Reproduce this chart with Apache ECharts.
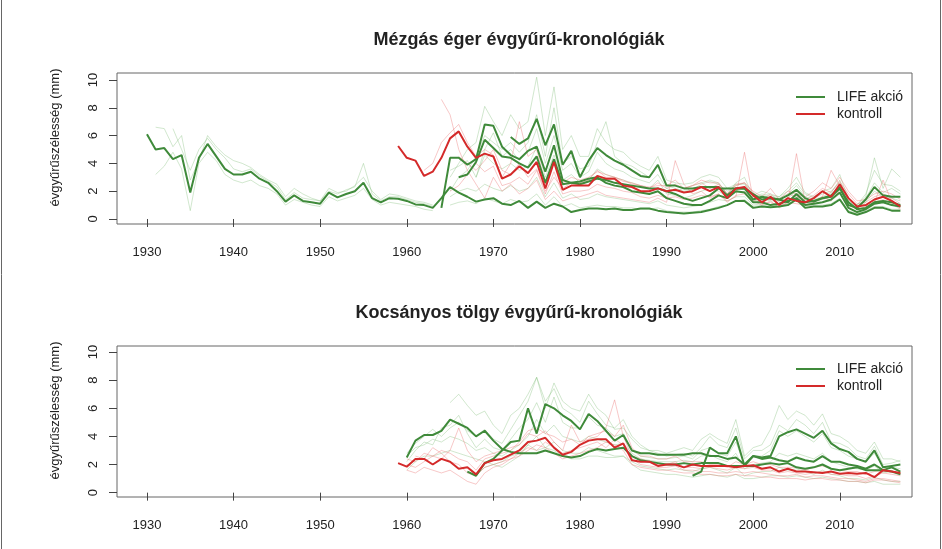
<!DOCTYPE html>
<html>
<head>
<meta charset="utf-8">
<script src="https://cdn.jsdelivr.net/npm/echarts@6/dist/echarts.min.js"></script>
<style>
  html, body { margin: 0; padding: 0; background: #fff; }
  #chart { width: 942px; height: 549px; }
</style>
</head>
<body>
<div id="chart"></div>
<script>
// tick labels
const yearTicks = [1930, 1940, 1950, 1960, 1970, 1980, 1990, 2000, 2010]
const widthTicks = [0, 2, 4, 6, 8, 10]

// ---- Mézgás éger (top panel) ----
// bold chronologies, LIFE akció
const egerLife1Start = 1930
const egerLife1 = [
  6.1, 5.0, 5.1, 4.3, 4.6, 1.9, 4.4, 5.4, 4.5, 3.6,
  3.2, 3.2, 3.4, 2.9, 2.6, 2.0, 1.25, 1.7, 1.3, 1.2,
  1.1, 1.9, 1.55, 1.8, 2.0, 2.6, 1.5, 1.2, 1.5, 1.45,
  1.3, 1.05, 1.0, 0.8, 1.5, 2.3, 1.9, 1.6, 1.25, 1.4,
  1.5, 1.1, 1.0, 1.3, 0.8, 1.25, 0.8, 1.1, 0.9, 0.5,
  0.65, 0.75, 0.75, 0.7, 0.75, 0.65, 0.65, 0.75, 0.75, 0.6,
  0.5, 0.45, 0.4, 0.45, 0.5, 0.65, 0.8, 1.0, 1.3, 1.3,
  0.8, 0.9, 0.85, 0.9, 1.0, 1.4, 0.8, 0.9, 0.9, 1.0,
  1.4, 0.5, 0.3, 0.5, 0.8, 0.8, 0.6, 0.6
]
const egerLife2Start = 1964
const egerLife2 = [
  0.8, 4.4, 4.4, 3.9, 4.3, 6.8, 6.7, 5.2, 4.6, 4.3,
  4.9, 5.2, 3.4, 5.3, 2.8, 2.6, 2.5, 2.7, 2.9, 2.8,
  2.6, 2.5, 2.4, 2.3, 2.2, 2.2, 2.0, 1.8, 1.5, 1.3,
  1.5, 1.7, 2.2, 2.2, 2.2, 2.2, 1.8, 1.4, 1.5, 1.4,
  1.2, 1.8, 1.2, 1.3, 1.5, 1.6, 2.2, 1.2, 0.7, 0.8,
  1.2, 1.3, 1.2, 1.0
]
const egerLife3Start = 1972
const egerLife3 = [
  5.9, 5.4, 5.8, 7.2, 5.3, 6.8, 3.9, 4.9, 3.0, 4.2,
  5.1, 4.6, 4.2, 3.9, 3.5, 3.1, 3.0, 3.9, 2.4, 2.4,
  2.2, 2.2, 2.3, 2.3, 2.3, 1.7, 2.2, 2.2, 1.4, 1.6,
  1.5, 1.4, 1.7, 2.1, 1.5, 1.25, 1.5, 1.7, 2.3, 1.0,
  0.8, 1.4, 2.3, 1.7, 1.6, 1.6
]
const egerLife4Start = 1966
const egerLife4 = [
  3.0, 3.2, 4.1, 5.7, 5.1, 4.5, 4.4, 4.0, 3.7, 4.5,
  2.6, 4.3, 2.5, 2.6, 2.7, 2.9, 3.0, 2.6, 2.4, 2.3,
  2.0, 1.9, 1.8, 2.0, 1.5, 1.3, 1.1, 1.0, 1.0, 1.3,
  1.7, 1.5, 2.0, 1.9, 1.2, 1.2, 1.0, 1.1, 1.3, 1.5,
  1.0, 1.1, 1.2, 1.4, 1.9, 0.8, 0.5, 0.7, 1.1, 1.2,
  1.0, 0.9
]
// bold chronology, kontroll
const egerKontrollStart = 1959
const egerKontroll = [
  5.25, 4.4, 4.2, 3.1, 3.4, 4.4, 5.8, 6.3, 5.2, 4.4,
  4.7, 4.5, 2.9, 3.2, 3.8, 3.3, 4.1, 2.2, 4.1, 2.1,
  2.4, 2.4, 2.4, 3.1, 2.9, 2.9, 2.4, 2.3, 2.0, 2.0,
  2.2, 2.0, 2.1, 1.9, 2.0, 2.3, 2.0, 2.3, 1.5, 2.2,
  2.3, 1.7, 1.2, 1.6, 1.0, 1.5, 1.3, 1.2, 1.5, 2.0,
  1.6, 2.5, 1.5, 0.9, 1.0, 1.4, 1.6, 1.3, 0.9
]
// individual trees (faint)
const egerTreeG1Start = 1931
const egerTreeG1 = [
  6.6, 6.5, 5.2, 6.0, 2.8, 4.2, 6.0, 5.2, 4.6, 4.2,
  4.0, 3.7, 3.2, 2.8, 2.5, 1.6, 2.2, 1.8, 1.5, 1.3,
  2.2, 1.9, 2.0, 2.4, 3.0, 2.0, 1.4, 1.8, 1.7, 1.5,
  1.3, 1.2, 1.0
]
const egerTreeG2Start = 1931
const egerTreeG2 = [
  3.2, 3.8, 4.8, 3.6, 0.6, 4.0, 4.8, 4.2, 3.2, 2.8,
  2.6, 2.8, 2.4, 2.2, 1.8, 1.0, 1.4, 1.2, 1.0, 0.9,
  1.6, 1.3, 1.5, 1.7, 2.2, 1.4, 1.0, 1.2, 1.1, 1.0,
  0.9, 0.7, 0.6
]
const egerTreeG3Start = 1933
const egerTreeG3 = [
  6.5, 5.0, 3.5, 5.0, 5.8, 5.0, 4.4, 3.6, 3.4, 3.6,
  3.1, 2.7, 2.3, 1.4, 1.9, 1.5, 1.4, 1.3, 2.0, 1.8,
  2.1, 2.3, 4.0, 1.8, 1.3, 1.6, 1.6, 1.4, 1.2, 1.1,
  0.9
]
const egerTreeG4Start = 1965
const egerTreeG4 = [
  3.0, 4.0, 5.0, 5.5, 8.1, 7.0, 6.0, 7.5, 6.5, 7.0,
  10.2, 6.0, 9.5, 5.0, 6.0, 4.5, 4.5, 6.5, 5.5, 5.0,
  4.8, 4.2, 3.8, 3.5, 4.5, 2.8, 2.6, 2.5, 2.6, 3.0,
  3.2, 3.0, 2.2, 2.5, 2.5, 1.7, 2.0, 1.8, 1.6, 2.0,
  2.6, 1.8, 1.5, 1.8, 2.0, 2.6, 1.3, 1.0, 1.8, 3.5,
  2.5, 2.4, 2.0
]
const egerTreeG5Start = 1965
const egerTreeG5 = [
  2.0, 3.0, 3.5, 4.5, 6.0, 5.5, 5.0, 5.5, 4.8, 5.5,
  7.5, 4.5, 8.0, 4.0, 4.5, 3.6, 3.8, 5.5, 7.0, 4.5,
  4.0, 3.8, 3.4, 3.0, 3.8, 2.4, 2.2, 2.0, 2.1, 2.5,
  2.7, 2.5, 2.0, 2.4, 2.6, 1.6, 1.7, 1.6, 1.5, 1.8,
  2.4, 1.6, 1.4, 1.6, 1.9, 2.8, 1.2, 0.9, 1.5, 2.6,
  1.9, 2.2, 1.8
]
const egerTreeG6Start = 1965
const egerTreeG6 = [
  1.6, 2.0, 2.2, 2.0, 2.5, 2.2, 2.0, 2.4, 2.0, 2.2,
  3.0, 1.6, 2.6, 1.5, 1.8, 1.4, 1.5, 1.8, 1.6, 1.5,
  1.4, 1.3, 1.2, 1.1, 1.3, 1.0, 0.9, 0.8, 0.9, 1.0,
  1.2, 1.4, 1.3, 1.6, 1.6, 1.0, 1.1, 1.0, 1.1, 1.2,
  1.7, 1.0, 1.1, 1.2, 1.3, 1.8, 0.8, 0.5, 0.8, 1.3,
  1.2, 1.0, 0.9
]
const egerTreeG7Start = 1965
const egerTreeG7 = [
  3.5, 3.8, 4.2, 3.0, 4.6, 4.0, 3.6, 4.0, 3.5, 3.8,
  5.2, 3.0, 4.6, 2.8, 3.2, 2.6, 2.8, 3.6, 3.2, 3.0,
  2.8, 2.6, 2.4, 2.2, 2.8, 1.8, 1.7, 1.5, 1.7, 2.0,
  2.2, 2.0, 1.6, 1.9, 2.0, 1.3, 1.4, 1.3, 1.3, 1.5,
  2.0, 1.3, 1.2, 1.4, 1.6, 2.2, 1.0, 0.7, 1.2, 2.0,
  1.6, 1.5, 1.3
]
const egerTreeG8Start = 1968
const egerTreeG8 = [
  3.0, 5.0, 6.2, 4.5, 5.0, 4.2, 4.8, 6.5, 4.0, 6.0,
  3.5, 4.0, 3.0, 3.4, 4.8, 4.0, 3.6, 3.4, 3.0, 2.8,
  2.6, 3.2, 2.2, 2.0, 2.2, 2.4, 2.6, 2.8, 2.6, 1.8,
  2.6, 3.0, 1.6, 1.8, 1.7, 1.6, 2.2, 3.0, 1.9, 1.6,
  2.0, 2.2, 3.2, 1.4, 1.0, 1.6, 4.4, 2.2, 3.6, 3.0
]
const egerTreeG9Start = 1965
const egerTreeG9 = [
  1.0, 1.2, 1.3, 1.1, 1.5, 1.3, 1.1, 1.4, 1.2, 1.3,
  1.8, 1.0, 1.6, 0.9, 1.1, 0.8, 0.9, 1.0, 0.9, 0.9,
  0.8, 0.8, 0.7, 0.7, 0.8, 0.6, 0.5, 0.5, 0.5, 0.6,
  0.7, 0.9, 1.0, 1.3, 1.4, 0.9, 1.0, 0.9, 1.0, 1.1,
  1.5, 0.9, 1.0, 1.0, 1.1, 1.5, 0.6, 0.4, 0.6, 0.9,
  0.9, 0.7, 0.7
]
const egerTreeR1Start = 1964
const egerTreeR1 = [
  8.6, 7.5, 5.0, 3.5, 2.5, 1.5, 3.0, 2.0, 2.5, 1.8,
  2.2, 2.8, 1.4, 2.0, 1.3, 1.5, 1.6, 1.8, 2.0, 1.7,
  1.6, 1.5, 1.4, 1.3, 1.2, 1.5, 1.2, 4.2, 2.5, 1.8,
  2.0, 1.5, 1.8, 1.3, 1.6, 4.8, 1.4, 1.1, 1.2, 0.9,
  1.2, 4.7, 1.2, 1.3, 1.6, 3.5, 2.4, 1.0, 0.7, 0.9,
  1.2, 2.8, 1.2, 0.8
]
const egerTreeR2Start = 1962
const egerTreeR2 = [
  3.5, 4.0, 5.5, 6.2, 6.8, 5.5, 4.5, 5.0, 4.6, 3.0,
  4.0, 7.0, 4.5, 5.0, 2.5, 4.2, 2.6, 3.0, 2.8, 3.0,
  3.4, 3.2, 3.0, 2.7, 2.6, 2.4, 2.2, 2.6, 2.2, 2.5,
  2.2, 2.4, 2.6, 2.2, 2.5, 1.8, 2.4, 2.6, 1.9, 1.4,
  1.8, 1.2, 1.8, 1.6, 1.4, 1.7, 2.2, 1.9, 2.7, 1.8,
  1.1, 1.2, 1.6, 1.8, 1.5, 1.1
]
const egerTreeR3Start = 1965
const egerTreeR3 = [
  2.0, 2.4, 3.2, 4.0, 3.4, 3.8, 2.4, 2.6, 3.0, 2.5,
  3.5, 1.8, 3.4, 1.8, 2.0, 2.0, 2.1, 2.5, 2.3, 2.2,
  2.0, 1.9, 1.6, 1.5, 1.7, 1.5, 1.6, 1.4, 1.5, 1.7,
  1.6, 1.8, 1.2, 1.7, 1.8, 1.3, 1.0, 1.3, 0.8, 1.2,
  1.1, 1.0, 1.2, 1.6, 1.3, 2.1, 1.2, 0.7, 0.8, 1.2,
  1.4, 1.1, 0.7
]
const egerTreeR4Start = 1966
const egerTreeR4 = [
  4.5, 4.0, 3.5, 4.2, 5.0, 3.5, 3.2, 4.0, 3.0, 3.6,
  2.0, 3.0, 2.2, 2.6, 2.6, 2.8, 3.5, 3.0, 3.0, 2.8,
  2.5, 2.4, 2.3, 2.4, 2.4, 2.8, 2.2, 2.4, 2.8, 2.6,
  2.6, 1.8, 2.5, 2.6, 2.0, 1.6, 2.2, 1.4, 2.0, 1.8,
  1.6, 2.0, 2.6, 2.2, 3.0, 2.0, 1.3, 1.4, 1.8, 2.0,
  1.8, 1.4
]

// ---- Kocsányos tölgy (bottom panel) ----
const tolgyLife1Start = 1960
const tolgyLife1 = [
  2.5, 3.7, 4.1, 4.1, 4.4, 5.2, 4.9, 4.6, 4.0, 4.4,
  3.7, 3.1, 2.9, 2.8, 2.8, 2.8, 3.0, 2.8, 2.6, 2.5,
  2.6, 2.9, 3.1, 3.0, 3.1, 3.2, 2.6, 2.3, 2.2, 2.1,
  2.0, 2.0, 2.1, 2.0, 2.1, 2.1, 2.1, 1.9, 1.9, 1.9,
  1.9, 2.0, 2.1, 2.0, 2.1, 1.8, 1.7, 1.8, 2.0, 1.7,
  1.6, 1.7, 1.8, 1.6, 1.6, 1.6, 1.5, 1.3
]
const tolgyLife2Start = 1967
const tolgyLife2 = [
  1.5, 1.2, 2.1, 2.4, 3.0, 3.6, 3.7, 6.0, 4.2, 6.3,
  6.0, 5.5, 5.1, 4.5, 5.6, 5.1, 4.4, 3.7, 4.1, 3.0,
  2.8, 2.8, 2.7, 2.7, 2.7, 2.7, 2.8, 2.8, 2.6, 2.6,
  2.4, 2.5, 2.0, 2.6, 2.4, 2.5, 2.3, 2.2, 2.5, 2.3,
  2.2, 2.6, 2.2, 2.2, 2.0, 1.9, 1.7, 2.0, 1.6, 1.8,
  1.5
]
const tolgyLife3Start = 1993
const tolgyLife3 = [
  1.2, 1.5, 3.2, 2.8, 2.8, 4.0, 1.9, 2.6, 2.5, 2.6,
  4.0, 4.3, 4.5, 4.2, 3.9, 4.4, 3.5, 3.1, 2.9, 2.4,
  2.2, 3.0, 1.8, 1.9, 2.0
]
const tolgyKontrollStart = 1959
const tolgyKontroll = [
  2.1, 1.85, 2.4, 2.4, 2.0, 2.4, 2.2, 1.7, 1.8, 1.3,
  2.1, 2.3, 2.4, 2.7, 3.0, 3.6, 3.7, 3.9, 3.2, 2.7,
  2.9, 3.4, 3.7, 3.8, 3.8, 3.2, 3.5, 2.3, 2.2, 2.2,
  1.9, 2.0, 2.0, 1.8, 2.0, 1.9, 1.9, 1.9, 1.9, 1.8,
  1.9, 1.95, 1.7, 1.8, 1.5, 1.7, 1.5, 1.5, 1.45, 1.4,
  1.5, 1.35, 1.4, 1.35, 1.4, 1.1, 1.6, 1.5, 1.4
]
const tolgyTreeG1Start = 1960
const tolgyTreeG1 = [
  2.8, 3.5, 4.0, 4.5, 4.0, 4.6, 5.0, 4.4, 4.0, 4.5,
  3.8, 3.5, 4.5, 5.5, 6.5, 8.2, 6.0, 7.8, 6.5, 6.0,
  5.8, 7.0, 6.0, 5.5, 4.5, 4.6, 3.8, 3.2, 3.0, 3.0,
  2.8, 3.0, 3.2, 3.0, 3.8, 4.2, 3.8, 3.5, 5.2, 2.6,
  3.2, 3.4, 4.5, 6.2, 5.2, 5.8, 5.5, 4.8, 5.6, 4.2,
  4.0, 3.6, 3.0, 2.8, 3.6, 2.4, 2.4, 2.2
]
const tolgyTreeG2Start = 1960
const tolgyTreeG2 = [
  2.2, 3.0, 3.6, 3.4, 4.6, 4.8, 5.5, 4.2, 3.2, 3.8,
  3.2, 3.0, 3.8, 4.6, 5.2, 6.4, 5.0, 6.8, 5.0, 4.6,
  4.6, 5.4, 4.8, 4.6, 4.0, 4.2, 3.0, 2.6, 2.5, 2.4,
  2.4, 2.5, 2.6, 2.4, 3.0, 3.2, 2.8, 2.6, 3.6, 2.0,
  2.6, 2.6, 3.0, 4.4, 4.0, 4.4, 4.0, 3.6, 4.2, 3.2,
  3.0, 2.6, 2.4, 2.2, 2.8, 1.8, 1.8, 1.7
]
const tolgyTreeG3Start = 1960
const tolgyTreeG3 = [
  1.6, 2.2, 2.6, 2.6, 2.8, 3.0, 2.8, 2.6, 2.4, 2.2,
  2.0, 1.8, 2.2, 2.6, 3.4, 4.0, 3.2, 3.6, 3.0, 2.8,
  2.8, 3.2, 3.0, 2.8, 2.6, 2.6, 2.2, 1.9, 1.8, 1.7,
  1.6, 1.7, 1.6, 1.5, 1.7, 1.8, 1.6, 1.4, 1.8, 1.2,
  1.4, 1.5, 1.5, 1.8, 1.6, 1.7, 1.5, 1.3, 1.6, 1.3,
  1.2, 1.0, 1.0, 0.9, 1.1, 0.9, 0.8, 0.8
]
const tolgyTreeG4Start = 1965
const tolgyTreeG4 = [
  6.4, 7.0, 6.2, 5.5, 5.8, 4.8, 4.2, 5.5, 6.0, 7.0,
  8.2, 6.5, 7.4, 6.0, 5.6, 5.0, 6.5, 5.6, 4.8, 4.6,
  5.2, 4.0, 3.4, 3.0, 2.8, 2.6, 2.7, 2.8, 2.6, 3.2,
  4.0, 3.4, 3.2, 4.6, 2.4, 3.0, 3.0, 3.4, 4.8, 4.4,
  5.2, 4.8, 4.2, 5.0, 3.6, 3.5, 3.2, 2.6, 2.4, 3.3,
  2.0, 2.1, 2.3
]
const tolgyTreeG5Start = 1960
const tolgyTreeG5 = [
  2.6, 3.2, 3.4, 3.8, 3.6, 4.0, 3.8, 3.5, 3.0, 3.2,
  2.8, 2.6, 3.0, 3.4, 4.0, 5.2, 4.2, 4.8, 4.0, 3.8,
  3.6, 4.0, 3.8, 3.6, 3.4, 3.5, 2.8, 2.4, 2.3, 2.2,
  2.2, 2.2, 2.3, 2.2, 2.6, 2.7, 2.4, 2.2, 2.8, 1.7,
  2.0, 2.1, 2.2, 2.8, 2.6, 2.8, 2.6, 2.4, 2.8, 2.2,
  2.0, 1.8, 1.7, 1.6, 1.9, 1.4, 1.5, 1.4
]
const tolgyTreeG6Start = 1967
const tolgyTreeG6 = [
  1.5, 1.2, 1.8, 2.0, 2.2, 2.6, 2.8, 3.4, 3.0, 3.2,
  3.0, 2.6, 2.4, 2.4, 2.6, 2.6, 2.5, 2.5, 2.6, 2.0,
  1.6, 1.5, 1.4, 1.3, 1.3, 1.2, 1.1, 1.2, 1.3, 1.2,
  1.1, 1.3, 1.0, 1.0, 1.1, 1.2, 1.2, 1.1, 1.2, 1.1,
  1.0, 1.1, 1.0, 0.9, 0.8, 0.8, 0.7, 0.8, 0.6, 0.6,
  0.6
]
const tolgyTreeR1Start = 1960
const tolgyTreeR1 = [
  2.0, 1.8, 2.2, 2.6, 2.4, 3.0, 4.6, 3.0, 2.2, 2.6,
  2.8, 3.0, 3.2, 3.4, 4.2, 4.0, 4.4, 3.6, 3.0, 4.8,
  3.6, 3.8, 4.0, 4.6, 6.6, 4.0, 2.6, 2.4, 2.2, 2.0,
  2.0, 2.2, 1.8, 1.8, 1.7, 1.8, 1.7, 1.6, 1.8, 1.7,
  1.8, 1.6, 1.6, 1.4, 1.5, 1.4, 1.3, 1.4, 1.5, 1.3,
  1.3, 1.2, 1.2, 1.0, 1.2, 1.4, 1.3, 1.2
]
const tolgyTreeR2Start = 1960
const tolgyTreeR2 = [
  1.6, 1.4, 1.8, 1.6, 1.4, 1.6, 1.2, 0.8, 0.6, 1.4,
  1.8, 2.0, 2.4, 2.6, 3.0, 3.4, 3.2, 2.8, 2.4, 2.6,
  2.8, 3.0, 3.2, 3.6, 3.4, 3.0, 2.0, 1.8, 1.7, 1.6,
  1.6, 1.5, 1.4, 1.4, 1.3, 1.3, 1.2, 1.2, 1.3, 1.2,
  1.2, 1.1, 1.1, 1.0, 1.0, 1.0, 0.9, 1.0, 1.0, 0.9,
  0.9, 0.8, 0.8, 0.7, 0.9, 0.9, 0.8, 0.7
]
const tolgyTreeR3Start = 1960
const tolgyTreeR3 = [
  2.4, 2.2, 2.8, 2.6, 3.0, 2.8, 2.4, 2.2, 1.6, 2.4,
  2.6, 2.8, 3.0, 3.6, 4.4, 4.6, 4.2, 4.0, 3.6, 3.8,
  3.4, 4.0, 4.2, 4.4, 4.0, 4.8, 3.2, 2.6, 2.6, 2.4,
  2.4, 2.6, 2.2, 2.2, 2.2, 2.0, 2.0, 1.8, 2.2, 2.0,
  2.2, 2.0, 2.0, 1.8, 1.8, 1.8, 1.6, 1.8, 1.9, 1.7,
  1.6, 1.5, 1.5, 1.3, 1.5, 1.6, 1.5, 1.3
]
const tolgyTreeR4Start = 1961
const tolgyTreeR4 = [
  2.6, 2.4, 3.2, 2.8, 2.2, 2.0, 1.4, 1.2, 1.8, 2.0,
  2.2, 2.4, 2.8, 3.2, 3.0, 3.6, 3.2, 2.8, 3.0, 3.2,
  3.4, 3.6, 3.2, 3.8, 3.4, 2.4, 2.0, 1.9, 1.8, 1.8,
  1.9, 1.6, 1.6, 1.5, 1.5, 1.4, 1.4, 1.5, 1.4, 1.5,
  1.4, 1.3, 1.2, 1.2, 1.3, 1.1, 1.2, 1.2, 1.1, 1.0,
  1.0, 0.9, 0.8, 1.0, 1.0, 0.9, 0.8
]

const zoldEros = '#3f8a3a'
const pirosEros = '#d42a2a'
const zoldHalvany = 'rgba(120, 185, 110, 0.34)'
const pirosHalvany = 'rgba(235, 110, 110, 0.38)'
const betu = 'Liberation Sans, Arial, sans-serif'

function parok(start, values) {
  return values.map((v, i) => [start + i, v])
}

function vonal(nev, panel, start, values, szin, vastag, z) {
  return {
    name: nev,
    type: 'line',
    xAxisIndex: panel,
    yAxisIndex: panel,
    data: parok(start, values),
    symbol: 'none',
    silent: true,
    z: z,
    lineStyle: { color: szin, width: vastag },
    itemStyle: { color: szin }
  }
}

let myChart = echarts.init(document.getElementById('chart'), null, {
  renderer: 'canvas'
})

const tengelyX = (panel) => ({
  type: 'value',
  gridIndex: panel,
  min: 1926.54,
  max: 2018.34,
  axisLine: { show: false },
  splitLine: { show: false },
  axisTick: { show: true, inside: false, length: 8, customValues: yearTicks, lineStyle: { color: '#444' } },
  axisLabel: {
    customValues: yearTicks, margin: 22, fontSize: 13, color: '#222', fontFamily: betu,
    formatter: (v) => String(v)
  }
})

const tengelyY = (panel, min, max) => ({
  type: 'value',
  gridIndex: panel,
  min: min,
  max: max,
  axisLine: { show: false },
  splitLine: { show: false },
  axisTick: { show: true, inside: false, length: 8, customValues: widthTicks, lineStyle: { color: '#444' } },
  axisLabel: { customValues: widthTicks, rotate: 90, margin: 17, fontSize: 13, color: '#222', fontFamily: betu },
  name: 'évgyűrűszélesség (mm)',
  nameLocation: 'middle',
  nameRotate: 90,
  nameGap: 55,
  // a kicsit feljebb tolt felirat, mint az eredetin
  nameTextStyle: { fontSize: 13, color: '#222', fontFamily: betu, padding: [0, 0, 0, 22] }
})

const jelmagyarazat = (top) => ({
  data: ['LIFE akció', 'kontroll'],
  orient: 'vertical',
  left: 791,
  top: top,
  icon: 'rect',
  itemWidth: 29,
  itemHeight: 2,
  itemGap: 3,
  selectedMode: false,
  textStyle: { fontSize: 14, color: '#222', fontFamily: betu, padding: [0, 0, 0, 7] }
})

let series = []
// top panel, faint trees
;[[egerTreeG1Start, egerTreeG1], [egerTreeG2Start, egerTreeG2], [egerTreeG3Start, egerTreeG3],
  [egerTreeG4Start, egerTreeG4], [egerTreeG5Start, egerTreeG5], [egerTreeG6Start, egerTreeG6],
  [egerTreeG7Start, egerTreeG7], [egerTreeG8Start, egerTreeG8], [egerTreeG9Start, egerTreeG9]
].forEach(([s, v]) => series.push(vonal('fa-zold', 0, s, v, zoldHalvany, 1, 1)))
;[[egerTreeR1Start, egerTreeR1], [egerTreeR2Start, egerTreeR2], [egerTreeR3Start, egerTreeR3],
  [egerTreeR4Start, egerTreeR4]
].forEach(([s, v]) => series.push(vonal('fa-piros', 0, s, v, pirosHalvany, 1, 1)))
// top panel, chronologies
;[[egerLife1Start, egerLife1], [egerLife2Start, egerLife2], [egerLife3Start, egerLife3],
  [egerLife4Start, egerLife4]
].forEach(([s, v]) => series.push(vonal('LIFE akció', 0, s, v, zoldEros, 2, 3)))
series.push(vonal('kontroll', 0, egerKontrollStart, egerKontroll, pirosEros, 2, 4))

// bottom panel, faint trees
;[[tolgyTreeG1Start, tolgyTreeG1], [tolgyTreeG2Start, tolgyTreeG2], [tolgyTreeG3Start, tolgyTreeG3],
  [tolgyTreeG4Start, tolgyTreeG4], [tolgyTreeG5Start, tolgyTreeG5], [tolgyTreeG6Start, tolgyTreeG6]
].forEach(([s, v]) => series.push(vonal('fa-zold', 1, s, v, zoldHalvany, 1, 1)))
;[[tolgyTreeR1Start, tolgyTreeR1], [tolgyTreeR2Start, tolgyTreeR2], [tolgyTreeR3Start, tolgyTreeR3],
  [tolgyTreeR4Start, tolgyTreeR4]
].forEach(([s, v]) => series.push(vonal('fa-piros', 1, s, v, pirosHalvany, 1, 1)))
// bottom panel, chronologies
;[[tolgyLife1Start, tolgyLife1], [tolgyLife2Start, tolgyLife2], [tolgyLife3Start, tolgyLife3]
].forEach(([s, v]) => series.push(vonal('LIFE akció', 1, s, v, zoldEros, 2, 3)))
series.push(vonal('kontroll', 1, tolgyKontrollStart, tolgyKontroll, pirosEros, 2, 4))

myChart.setOption({
  animation: false,
  backgroundColor: '#fff',
  title: [
    {
      text: 'Mézgás éger évgyűrű-kronológiák',
      left: 514, top: 26, textAlign: 'center',
      textStyle: { fontSize: 18, fontWeight: 'bold', color: '#222', fontFamily: betu }
    },
    {
      text: 'Kocsányos tölgy évgyűrű-kronológiák',
      left: 514, top: 299, textAlign: 'center',
      textStyle: { fontSize: 18, fontWeight: 'bold', color: '#222', fontFamily: betu }
    }
  ],
  legend: [jelmagyarazat(85), jelmagyarazat(357)],
  grid: [
    { left: 117, top: 73, width: 795, height: 151, show: true, borderColor: '#666', borderWidth: 1, backgroundColor: 'transparent' },
    { left: 117, top: 346, width: 795, height: 151, show: true, borderColor: '#666', borderWidth: 1, backgroundColor: 'transparent' }
  ],
  xAxis: [tengelyX(0), tengelyX(1)],
  yAxis: [tengelyY(0, -0.36, 10.5), tengelyY(1, -0.31, 10.43)],
  graphic: [
    { type: 'line', shape: { x1: 1.5, y1: 0, x2: 1.5, y2: 549 }, style: { stroke: '#666', lineWidth: 1 } },
    { type: 'line', shape: { x1: 940.5, y1: 0, x2: 940.5, y2: 549 }, style: { stroke: '#666', lineWidth: 1 } }
  ],
  series: series
})

window.addEventListener('resize', () => {
  myChart.resize()
})
</script>
</body>
</html>
